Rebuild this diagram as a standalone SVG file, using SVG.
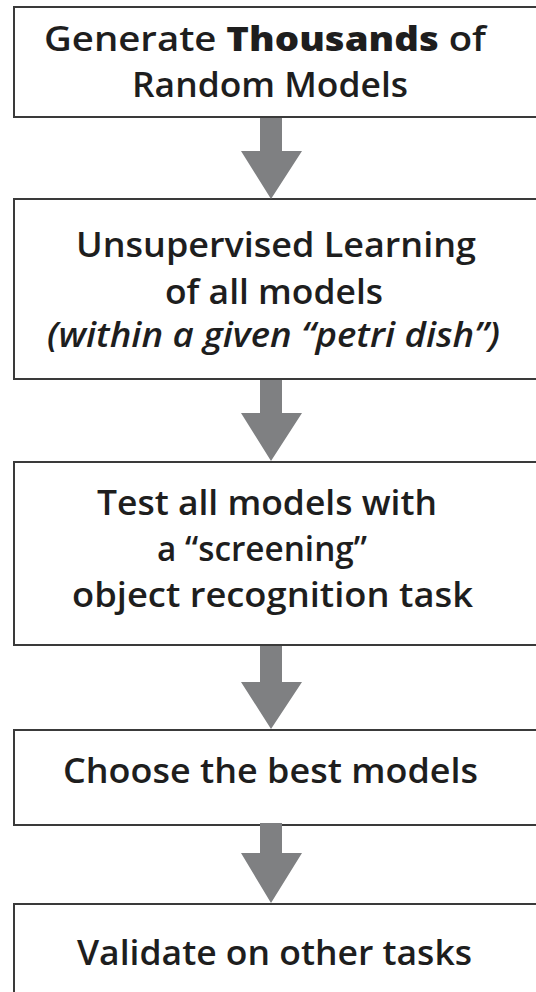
<svg xmlns="http://www.w3.org/2000/svg" width="536" height="992" viewBox="0 0 536 992">
<style>
.box{fill:#fff;stroke:#3a3a3a;stroke-width:2}
.t{font-family:"Open Sans","Noto Sans","Liberation Sans",sans-serif;font-weight:600;font-size:34px;fill:#1e1e1e}
.i{font-style:italic}
.b{font-weight:800}
.arr{fill:#7f8082}
</style>
<rect width="536" height="992" fill="#fff"/>
<g id="n1">
<rect class="box" x="14" y="7" width="530" height="110"/>
<text class="t" x="44" y="51" textLength="442" lengthAdjust="spacingAndGlyphs">Generate <tspan class="b">Thousands</tspan> of</text>
<text class="t" x="132" y="97" textLength="276" lengthAdjust="spacingAndGlyphs">Random Models</text>
</g>
<g id="n2">
<rect class="box" x="14" y="199" width="530" height="180"/>
<text class="t" x="76" y="257" textLength="400" lengthAdjust="spacingAndGlyphs">Unsupervised Learning</text>
<text class="t" x="165" y="304" textLength="218" lengthAdjust="spacingAndGlyphs">of all models</text>
<text class="t i" x="47" y="347" textLength="453" lengthAdjust="spacingAndGlyphs">(within a given “petri dish”)</text>
</g>
<g id="n3">
<rect class="box" x="14" y="462" width="530" height="183"/>
<text class="t" x="97" y="515" textLength="340" lengthAdjust="spacingAndGlyphs">Test all models with</text>
<text class="t" x="157" y="561" textLength="210" lengthAdjust="spacingAndGlyphs">a “screening”</text>
<text class="t" x="72" y="607" textLength="401" lengthAdjust="spacingAndGlyphs">object recognition task</text>
</g>
<g id="n4">
<rect class="box" x="14" y="730" width="530" height="95"/>
<text class="t" x="63" y="783" textLength="415" lengthAdjust="spacingAndGlyphs">Choose the best models</text>
</g>
<g id="n5">
<rect class="box" x="14" y="904" width="530" height="100"/>
<text class="t" x="77" y="965" textLength="395" lengthAdjust="spacingAndGlyphs">Validate on other tasks</text>
</g>
<g id="connectors">
<path class="arr" d="M260,118 H282 V151 H302 L271,199 L241,151 H260 Z"/>
<path class="arr" d="M260,380 H282 V413 H302 L271,461 L241,413 H260 Z"/>
<path class="arr" d="M260,646 H282 V682 H302 L271,729 L241,682 H260 Z"/>
<path class="arr" d="M260,823 H282 V853 H302 L271,903 L241,853 H260 Z"/>
</g>
</svg>
